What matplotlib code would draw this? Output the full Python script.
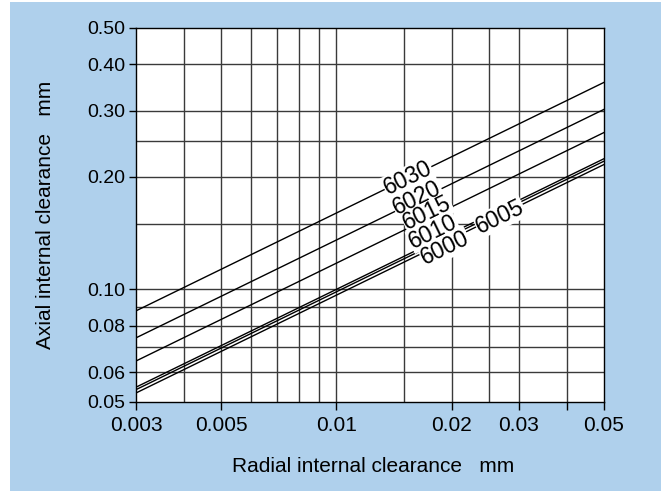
import numpy as np
import matplotlib
matplotlib.use("Agg")
from matplotlib import pyplot as plt
from matplotlib.patches import Rectangle

plt.rcParams['font.family'] = ['Liberation Sans', 'DejaVu Sans']

# bearing series and factor k in  axial = k * sqrt(radial)
series = ['6030', '6020', '6015', '6010', '6005', '6000']
k_vals = [1.60, 1.355, 1.175, 1.00, 0.985, 0.965]

# where each label sits (radial clearance) and its shift off the line
label_x = [0.01539, 0.01628, 0.01726, 0.01790, 0.02676, 0.01923]
label_shift = [1.0, 1.015, 1.04, 1.065, 0.97, 0.965]

x_ticks = [0.003, 0.005, 0.01, 0.02, 0.03, 0.04, 0.05]
x_ticklabels = ['0.003', '0.005', '0.01', '0.02', '0.03', '', '0.05']
y_ticks = [0.05, 0.06, 0.08, 0.10, 0.20, 0.30, 0.40, 0.50]
y_ticklabels = ['0.05', '0.06', '0.08', '0.10', '0.20', '0.30', '0.40', '0.50']

x_grid = [0.004, 0.005, 0.006, 0.007, 0.008, 0.009, 0.01, 0.015, 0.02, 0.025, 0.03, 0.04]
y_grid = [0.06, 0.07, 0.08, 0.09, 0.10, 0.15, 0.20, 0.25, 0.30, 0.40]

bg = '#afd0ec'

fig = plt.figure(figsize=(6.67, 4.92), dpi=100)
fig.patches.append(Rectangle((10 / 667, 1 / 492), 651 / 667, 489 / 492,
                             transform=fig.transFigure, facecolor=bg,
                             edgecolor='none', zorder=-5))
ax = fig.add_axes([136 / 667, 90 / 492, 468 / 667, 374 / 492])
ax.set_xscale('log')
ax.set_yscale('log')
ax.set_xlim(0.003, 0.05)
ax.set_ylim(0.05, 0.5)
ax.set_facecolor('white')

for gx in x_grid:
    ax.axvline(gx, color='#3a3a3a', lw=1.0, zorder=1)
for gy in y_grid:
    ax.axhline(gy, color='#3a3a3a', lw=1.0, zorder=1)

xs = np.array([0.003, 0.05])
for name, k in zip(series, k_vals):
    ax.plot(xs, k * np.sqrt(xs), color='black', lw=1.0, zorder=2)

# angle of the lines on screen
fig.canvas.draw()
p0 = ax.transData.transform((0.003, np.sqrt(0.003)))
p1 = ax.transData.transform((0.05, np.sqrt(0.05)))
angle = np.degrees(np.arctan2(p1[1] - p0[1], p1[0] - p0[0]))

for name, k, lx, sh in zip(series, k_vals, label_x, label_shift):
    ly = k * np.sqrt(lx) * sh
    # white patch first, then the text on top so boxes never hide text
    ax.text(lx, ly, name, rotation=angle, fontsize=16.5, color='white',
            ha='center', va='center', rotation_mode='anchor', zorder=3,
            bbox=dict(facecolor='white', edgecolor='none', pad=0.3))
    ax.text(lx, ly, name, rotation=angle, fontsize=16.5, color='black',
            ha='center', va='center', rotation_mode='anchor', zorder=4)

ax.set_xticks(x_ticks)
ax.set_xticklabels(x_ticklabels)
ax.set_yticks(y_ticks)
ax.set_yticklabels(y_ticklabels)
ax.minorticks_off()
ax.tick_params(axis='x', direction='out', length=6, width=1.0, pad=4, labelsize=15)
ax.tick_params(axis='y', direction='out', length=5, width=1.0, pad=3, labelsize=14)
for s in ax.spines.values():
    s.set_linewidth(1.0)

fig.text(373 / 667, 1 - 467 / 492, 'Radial internal clearance   mm',
         ha='center', va='center', fontsize=15)
fig.text(46 / 667, 1 - 215 / 492, 'Axial internal clearance   mm',
         ha='center', va='center', fontsize=15, rotation=90)

fig.savefig('out.png', dpi=100)
